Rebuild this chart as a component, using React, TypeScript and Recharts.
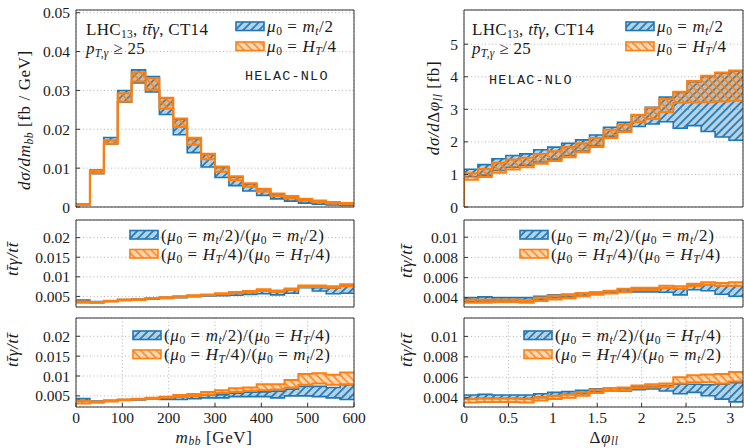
import React from 'react';
import { ComposedChart, Area, XAxis, YAxis, CartesianGrid } from 'recharts';

// ---------- categories (bin edges) ----------
const mbbEdges = [0, 30, 60, 90, 120, 150, 180, 210, 240, 270, 300, 330, 360, 390, 420, 450, 480, 510, 540, 570, 600];
const dphiEdges = [0, 0.1571, 0.3142, 0.4712, 0.6283, 0.7854, 0.9425, 1.0996, 1.2566, 1.4137, 1.5708, 1.7279, 1.885, 2.042, 2.1991, 2.3562, 2.5133, 2.6704, 2.8274, 2.9845, 3.1416];

// ---------- tick labels ----------
const mbbTicks = [0, 100, 200, 300, 400, 500, 600];
const dphiTicks = [0, 0.5, 1, 1.5, 2, 2.5, 3];
const topLeftYTicks = [0, 0.01, 0.02, 0.03, 0.04, 0.05];
const topRightYTicks = [0, 1, 2, 3, 4, 5];
const ratioLeftYTicks = [0.005, 0.01, 0.015, 0.02];
const ratioRightYTicks = [0.004, 0.006, 0.008, 0.01];

// ---------- m_bb differential cross section [fb/GeV] ----------
const mbbMtLo = [0.0006, 0.0086, 0.0162, 0.027, 0.0319, 0.0296, 0.0238, 0.0186, 0.014, 0.0103, 0.0076, 0.0055, 0.0041, 0.003, 0.0021, 0.0015, 0.001, 0.0007, 0.0005, 0.0004];
const mbbMtHi = [0.0008, 0.0095, 0.0179, 0.03, 0.0353, 0.0336, 0.028, 0.0226, 0.0176, 0.0135, 0.0102, 0.0077, 0.0059, 0.0045, 0.0033, 0.0026, 0.0019, 0.0015, 0.0011, 0.0008];
const mbbHtLo = [0.0006, 0.0087, 0.0163, 0.0271, 0.0323, 0.0302, 0.0253, 0.0206, 0.016, 0.0123, 0.0091, 0.0069, 0.0052, 0.0039, 0.0028, 0.0022, 0.0016, 0.0012, 0.0009, 0.0007];
const mbbHtHi = [0.0008, 0.0093, 0.0172, 0.0293, 0.0347, 0.0332, 0.0281, 0.0228, 0.0178, 0.0137, 0.0104, 0.0079, 0.0061, 0.0047, 0.0035, 0.0028, 0.0021, 0.0017, 0.0013, 0.001];

// ---------- delta phi_ll differential cross section [fb] ----------
const dphiMtLo = [0.93, 0.98, 1.12, 1.22, 1.28, 1.38, 1.47, 1.58, 1.72, 1.88, 2.17, 2.33, 2.47, 2.55, 2.62, 2.42, 2.5, 2.32, 2.15, 2.05];
const dphiMtHi = [1.16, 1.3, 1.48, 1.58, 1.63, 1.76, 1.84, 1.96, 2.06, 2.21, 2.45, 2.6, 2.83, 3.06, 3.38, 3.52, 3.85, 4.01, 4.11, 4.17];
const dphiHtLo = [0.84, 0.92, 1.05, 1.15, 1.22, 1.33, 1.41, 1.53, 1.68, 1.84, 2.12, 2.3, 2.6, 2.7, 2.91, 3.2, 3.21, 3.22, 3.24, 3.26];
const dphiHtHi = [1.04, 1.17, 1.36, 1.46, 1.51, 1.63, 1.71, 1.84, 1.96, 2.12, 2.37, 2.53, 2.83, 3.05, 3.32, 3.54, 3.87, 4.03, 4.13, 4.19];

// ---------- ratio ttA/tt, same scale (m_bb) ----------
const rSameMbbMtLo = [0.0036, 0.0034, 0.0037, 0.004, 0.0041, 0.0043, 0.0045, 0.0047, 0.0049, 0.0051, 0.0052, 0.0053, 0.0055, 0.0057, 0.0054, 0.0058, 0.0072, 0.0064, 0.0057, 0.0058];
const rSameMbbMtHi = [0.0041, 0.0037, 0.0039, 0.0042, 0.0043, 0.0046, 0.0048, 0.005, 0.0052, 0.0054, 0.0057, 0.0058, 0.006, 0.0064, 0.0062, 0.0067, 0.0076, 0.0072, 0.0071, 0.0078];
const rSameMbbHtLo = [0.0034, 0.0034, 0.0037, 0.004, 0.0041, 0.0044, 0.0046, 0.0048, 0.0051, 0.0053, 0.0055, 0.0058, 0.006, 0.0064, 0.0062, 0.0067, 0.0074, 0.0074, 0.0072, 0.0076];
const rSameMbbHtHi = [0.0037, 0.0036, 0.0039, 0.0042, 0.0043, 0.0046, 0.0048, 0.005, 0.0053, 0.0055, 0.0058, 0.0061, 0.0064, 0.0068, 0.0065, 0.007, 0.0078, 0.0078, 0.0076, 0.0081];

// ---------- ratio ttA/tt, same scale (delta phi) ----------
const rSameDphiMtLo = [0.00364, 0.0037, 0.0037, 0.0037, 0.0037, 0.00384, 0.00403, 0.0041, 0.00423, 0.00436, 0.0045, 0.0046, 0.0046, 0.0046, 0.00456, 0.0043, 0.0048, 0.0047, 0.00436, 0.00416];
const rSameDphiMtHi = [0.00403, 0.0041, 0.00403, 0.00403, 0.00403, 0.00416, 0.0043, 0.00436, 0.00443, 0.00456, 0.0047, 0.0048, 0.0049, 0.0049, 0.00495, 0.0049, 0.00528, 0.00528, 0.0052, 0.0052];
const rSameDphiHtLo = [0.00351, 0.00351, 0.00357, 0.00357, 0.00351, 0.0037, 0.00384, 0.00397, 0.00416, 0.0043, 0.00443, 0.00456, 0.00475, 0.00475, 0.00495, 0.0049, 0.00515, 0.00528, 0.0052, 0.0052];
const rSameDphiHtHi = [0.00384, 0.00384, 0.00384, 0.00384, 0.00377, 0.00403, 0.00423, 0.0043, 0.00449, 0.00456, 0.0047, 0.0049, 0.005, 0.005, 0.0052, 0.00515, 0.0054, 0.00554, 0.00548, 0.00554];

// ---------- ratio ttA/tt, mixed scales (m_bb) ----------
const rMixMbbMtLo = [0.0036, 0.0035, 0.0037, 0.0039, 0.004, 0.0042, 0.0041, 0.0041, 0.0043, 0.0045, 0.0045, 0.0048, 0.0048, 0.0048, 0.0045, 0.005, 0.005, 0.0048, 0.0045, 0.0041];
const rMixMbbMtHi = [0.0043, 0.0037, 0.0039, 0.0041, 0.0042, 0.0044, 0.0045, 0.0047, 0.005, 0.0052, 0.0053, 0.0057, 0.0059, 0.006, 0.0062, 0.0067, 0.0074, 0.0074, 0.0071, 0.0078];
const rMixMbbHtLo = [0.0031, 0.0033, 0.0036, 0.0039, 0.0041, 0.0043, 0.0045, 0.0047, 0.005, 0.0053, 0.0057, 0.006, 0.0062, 0.0064, 0.0066, 0.0071, 0.0078, 0.0081, 0.0078, 0.0079];
const rMixMbbHtHi = [0.0037, 0.0036, 0.0038, 0.0041, 0.0043, 0.0045, 0.0048, 0.0052, 0.0055, 0.006, 0.0064, 0.0069, 0.0071, 0.0079, 0.0079, 0.009, 0.0105, 0.0107, 0.0103, 0.0109];

// ---------- ratio ttA/tt, mixed scales (delta phi) ----------
const rMixDphiMtLo = [0.00387, 0.00393, 0.00393, 0.00393, 0.00393, 0.004, 0.0042, 0.00433, 0.0044, 0.0046, 0.00467, 0.00467, 0.0048, 0.00487, 0.00467, 0.0044, 0.00453, 0.0042, 0.00387, 0.0036];
const rMixDphiMtHi = [0.00427, 0.00433, 0.00427, 0.00427, 0.00427, 0.0044, 0.00453, 0.0046, 0.00473, 0.00487, 0.00493, 0.00493, 0.00507, 0.00513, 0.0052, 0.00533, 0.00533, 0.00527, 0.00533, 0.00547];
const rMixDphiHtLo = [0.00353, 0.0036, 0.0036, 0.0036, 0.00353, 0.00373, 0.00387, 0.004, 0.0042, 0.00447, 0.00467, 0.00473, 0.00493, 0.005, 0.00507, 0.0054, 0.00553, 0.00553, 0.0054, 0.0056];
const rMixDphiHtHi = [0.00387, 0.00393, 0.00393, 0.00393, 0.00387, 0.00407, 0.0042, 0.00433, 0.00453, 0.0048, 0.00493, 0.005, 0.0052, 0.00533, 0.0054, 0.006, 0.0062, 0.00627, 0.00633, 0.00653];

type Row = { x: number; b: [number, number]; o: [number, number] };

function steps(edges: number[], bLo: number[], bHi: number[], oLo: number[], oHi: number[], lead = false): Row[] {
  const rows: Row[] = [];
  if (lead) rows.push({ x: edges[0], b: [0, 0], o: [0, 0] });
  for (let i = 0; i < bLo.length; i++) rows.push({ x: edges[i], b: [bLo[i], bHi[i]], o: [oLo[i], oHi[i]] });
  const n = bLo.length - 1;
  rows.push({ x: edges[n + 1], b: [bLo[n], bHi[n]], o: [oLo[n], oHi[n]] });
  return rows;
}

const SERIF = "'Liberation Serif', 'Times New Roman', serif";
const MONO = "'Liberation Mono', 'DejaVu Sans Mono', monospace";
const FRAME = '#333';
const BLUE = '#1f77b4';
const ORANGE = '#ff7f0e';
const TICK_FS = 15.5;
const FS = 17;
const LS = 0.6;
const SUB = 11.5;

function Patterns() {
  return (
    <defs>
      <pattern id="hatchB" patternUnits="userSpaceOnUse" width="5.6" height="5.6" patternTransform="rotate(45)">
        <rect width="5.6" height="5.6" fill={BLUE} fillOpacity={0.33} />
        <line x1="2.8" y1="0" x2="2.8" y2="5.6" stroke={BLUE} strokeWidth={1.7} />
      </pattern>
      <pattern id="hatchO" patternUnits="userSpaceOnUse" width="5.6" height="5.6" patternTransform="rotate(-45)">
        <rect width="5.6" height="5.6" fill={ORANGE} fillOpacity={0.3} />
        <line x1="2.8" y1="0" x2="2.8" y2="5.6" stroke={ORANGE} strokeWidth={1.7} strokeOpacity={0.85} />
      </pattern>
    </defs>
  );
}

type PanelProps = {
  px: number; py: number; pw: number; ph: number;
  data: Row[];
  xDomain: [number, number]; xTicks: number[];
  yDomain: [number, number]; yTicks: number[];
  xLabels: boolean;
};

function Panel(p: PanelProps) {
  const ML = 72, MR = 18, MT = 6, MB = p.xLabels ? 30 : 11;
  const W = p.pw + ML + MR;
  const H = p.ph + MT + MB;
  const tickStyle = { fontFamily: SERIF, fontSize: TICK_FS, fill: '#1a1a1a' };
  return (
    <div style={{ position: 'absolute', left: p.px - ML, top: p.py - MT }}>
      <ComposedChart width={W} height={H} data={p.data} margin={{ top: 0, right: 0, bottom: 0, left: 0 }}>
        <Patterns />
        <CartesianGrid xAxisId="b" yAxisId="l" stroke="#b5b5b5" strokeDasharray="1 2.5" />
        <XAxis
          xAxisId="b" dataKey="x" type="number" orientation="bottom" height={MB}
          domain={p.xDomain} ticks={p.xTicks} interval={0} allowDataOverflow
          tickSize={-4} tickMargin={9}
          tick={p.xLabels ? tickStyle : false}
          tickFormatter={(v: number) => String(v)}
          axisLine={{ stroke: FRAME }} tickLine={{ stroke: FRAME }}
        />
        <XAxis
          xAxisId="t" dataKey="x" type="number" orientation="top" height={MT}
          domain={p.xDomain} ticks={p.xTicks} interval={0} allowDataOverflow
          tickSize={-4} tick={false}
          axisLine={{ stroke: FRAME }} tickLine={{ stroke: FRAME }}
        />
        <YAxis
          yAxisId="l" type="number" orientation="left" width={ML}
          domain={p.yDomain} ticks={p.yTicks} interval={0} allowDataOverflow
          tickSize={-4} tickMargin={10} tick={tickStyle}
          tickFormatter={(v: number) => String(v)}
          axisLine={{ stroke: FRAME }} tickLine={{ stroke: FRAME }}
        />
        <YAxis
          yAxisId="r" type="number" orientation="right" width={MR}
          domain={p.yDomain} ticks={p.yTicks} interval={0} allowDataOverflow
          tickSize={-4} tick={false}
          axisLine={{ stroke: FRAME }} tickLine={{ stroke: FRAME }}
        />
        <Area
          xAxisId="b" yAxisId="l" type="stepAfter" dataKey="b"
          fill="url(#hatchB)" fillOpacity={1} stroke={BLUE} strokeWidth={1.6}
          isAnimationActive={false} dot={false} activeDot={false}
        />
        <Area
          xAxisId="b" yAxisId="l" type="stepAfter" dataKey="o"
          fill="url(#hatchO)" fillOpacity={1} stroke={ORANGE} strokeWidth={2}
          isAnimationActive={false} dot={false} activeDot={false}
        />
      </ComposedChart>
    </div>
  );
}

function Mu0() {
  return (
    <>
      <tspan fontStyle="italic">μ</tspan>
      <tspan fontSize={SUB} dy={3}>0</tspan>
      <tspan dy={-3}> = </tspan>
    </>
  );
}
function MtHalf() {
  return (
    <>
      <tspan fontStyle="italic">m</tspan>
      <tspan fontSize={SUB} fontStyle="italic" dy={3}>t</tspan>
      <tspan dy={-3}>/2</tspan>
    </>
  );
}
function HtQuarter() {
  return (
    <>
      <tspan fontStyle="italic">H</tspan>
      <tspan fontSize={SUB} fontStyle="italic" dy={3}>T</tspan>
      <tspan dy={-3}>/4</tspan>
    </>
  );
}

function Patch({ x, y, kind }: { x: number; y: number; kind: 'b' | 'o' }) {
  return (
    <rect x={x} y={y} width={28} height={8.5}
      fill={kind === 'b' ? 'url(#hatchB)' : 'url(#hatchO)'}
      stroke={kind === 'b' ? BLUE : ORANGE} strokeWidth={1.6} />
  );
}

function SimpleLegend({ x, y }: { x: number; y: number }) {
  return (
    <g fontFamily={SERIF} fontSize={FS} letterSpacing={LS} fill="#1a1a1a">
      <Patch x={x} y={y} kind="b" />
      <text x={x + 31} y={y + 10}><Mu0 /><MtHalf /></text>
      <Patch x={x} y={y + 20} kind="o" />
      <text x={x + 31} y={y + 30}><Mu0 /><HtQuarter /></text>
    </g>
  );
}

function RatioLegend({ x, y, mixed }: { x: number; y: number; mixed: boolean }) {
  return (
    <g fontFamily={SERIF} fontSize={FS} letterSpacing={LS} fill="#1a1a1a">
      <Patch x={x} y={y} kind="b" />
      <text x={x + 31} y={y + 10}>
        <tspan>(</tspan><Mu0 /><MtHalf /><tspan>)/(</tspan><Mu0 />{mixed ? <HtQuarter /> : <MtHalf />}<tspan>)</tspan>
      </text>
      <Patch x={x} y={y + 19} kind="o" />
      <text x={x + 31} y={y + 29}>
        <tspan>(</tspan><Mu0 /><HtQuarter /><tspan>)/(</tspan><Mu0 />{mixed ? <MtHalf /> : <HtQuarter />}<tspan>)</tspan>
      </text>
    </g>
  );
}

function ProcessText({ x, y }: { x: number; y: number }) {
  return (
    <g fontFamily={SERIF} fontSize={FS} letterSpacing={0.3} fill="#1a1a1a">
      <text x={x} y={y}>
        <tspan>LHC</tspan><tspan fontSize={SUB} dy={3}>13</tspan><tspan dy={-3}>, </tspan>
        <tspan fontStyle="italic">t{'t\u0304'}γ</tspan><tspan>, CT14</tspan>
      </text>
      <text x={x} y={y + 19}>
        <tspan fontStyle="italic">p</tspan><tspan fontSize={SUB} fontStyle="italic" dy={3}>T,γ</tspan>
        <tspan dy={-3}> ≥ 25</tspan>
      </text>
    </g>
  );
}

function RatioTitle({ x, y }: { x: number; y: number }) {
  return (
    <text transform={`translate(${x},${y}) rotate(-90)`} textAnchor="middle" fontFamily={SERIF} fontSize={FS} letterSpacing={LS} fill="#1a1a1a" fontStyle="italic">
      t{'t\u0304'}γ/t{'t\u0304'}
    </text>
  );
}

function Overlay() {
  return (
    <svg width={744} height={448} style={{ position: 'absolute', left: 0, top: 0, pointerEvents: 'none' }}>
      <Patterns />
      {/* top-left */}
      <ProcessText x={86} y={35} />
      <SimpleLegend x={236} y={22} />
      <text x={245} y={80} fontFamily={MONO} fontSize={13.5} letterSpacing={1.2} fill="#222">HELAC-NLO</text>
      <text transform="translate(30,120) rotate(-90)" textAnchor="middle" fontFamily={SERIF} fontSize={FS} letterSpacing={LS} fill="#1a1a1a">
        <tspan fontStyle="italic">dσ/dm</tspan><tspan fontSize={SUB} fontStyle="italic" dy={3}>bb</tspan>
        <tspan dy={-3}> [fb / GeV]</tspan>
      </text>
      {/* top-right */}
      <ProcessText x={472} y={35} />
      <SimpleLegend x={626} y={22} />
      <text x={489} y={84} fontFamily={MONO} fontSize={13.5} letterSpacing={1.2} fill="#222">HELAC-NLO</text>
      <text transform="translate(438.5,108) rotate(-90)" textAnchor="middle" fontFamily={SERIF} fontSize={FS} letterSpacing={LS} fill="#1a1a1a">
        <tspan fontStyle="italic">dσ/d</tspan><tspan>Δ</tspan><tspan fontStyle="italic">φ</tspan>
        <tspan fontSize={SUB} fontStyle="italic" dy={3}>ll</tspan>
        <tspan dy={-3}> [fb]</tspan>
      </text>
      {/* middle */}
      <RatioLegend x={130} y={230.5} mixed={false} />
      <RatioLegend x={520} y={230.5} mixed={false} />
      <RatioTitle x={18} y={259} />
      <RatioTitle x={411.5} y={261} />
      {/* bottom */}
      <RatioLegend x={133} y={331} mixed={true} />
      <RatioLegend x={524} y={331} mixed={true} />
      <RatioTitle x={18} y={350} />
      <RatioTitle x={411.5} y={350} />
      {/* x titles */}
      <text x={214} y={442.5} textAnchor="middle" fontFamily={SERIF} fontSize={FS} letterSpacing={LS} fill="#1a1a1a">
        <tspan fontStyle="italic">m</tspan><tspan fontSize={SUB} fontStyle="italic" dy={2.5}>bb</tspan>
        <tspan dy={-2.5}> [GeV]</tspan>
      </text>
      <text x={604} y={442.5} textAnchor="middle" fontFamily={SERIF} fontSize={FS} letterSpacing={LS} fill="#1a1a1a">
        <tspan>Δ</tspan><tspan fontStyle="italic">φ</tspan>
        <tspan fontSize={SUB} fontStyle="italic" dy={2.5}>ll</tspan>
      </text>
    </svg>
  );
}

export default function App() {
  const topLeft = steps(mbbEdges, mbbMtLo, mbbMtHi, mbbHtLo, mbbHtHi);
  const topRight = steps(dphiEdges, dphiMtLo, dphiMtHi, dphiHtLo, dphiHtHi, true);
  const midLeft = steps(mbbEdges, rSameMbbMtLo, rSameMbbMtHi, rSameMbbHtLo, rSameMbbHtHi);
  const midRight = steps(dphiEdges, rSameDphiMtLo, rSameDphiMtHi, rSameDphiHtLo, rSameDphiHtHi);
  const botLeft = steps(mbbEdges, rMixMbbMtLo, rMixMbbMtHi, rMixMbbHtLo, rMixMbbHtHi);
  const botRight = steps(dphiEdges, rMixDphiMtLo, rMixDphiMtHi, rMixDphiHtLo, rMixDphiHtHi);
  const PI = Math.PI;
  return (
    <div style={{ position: 'absolute', left: 0, top: 0, width: 744, height: 448, overflow: 'hidden', background: '#fff' }}>
      <Panel px={76} py={10} pw={278} ph={197} data={topLeft} xDomain={[0, 600]} xTicks={mbbTicks} yDomain={[0, 0.0507]} yTicks={topLeftYTicks} xLabels={false} />
      <Panel px={464} py={10} pw={279} ph={197} data={topRight} xDomain={[0, PI]} xTicks={dphiTicks} yDomain={[0, 6.05]} yTicks={topRightYTicks} xLabels={false} />
      <Panel px={76} py={220} pw={278} ph={87} data={midLeft} xDomain={[0, 600]} xTicks={mbbTicks} yDomain={[0.0023, 0.0245]} yTicks={ratioLeftYTicks} xLabels={false} />
      <Panel px={464} py={220} pw={279} ph={87} data={midRight} xDomain={[0, PI]} xTicks={dphiTicks} yDomain={[0.0031, 0.0117]} yTicks={ratioRightYTicks} xLabels={false} />
      <Panel px={76} py={318} pw={278} ph={89} data={botLeft} xDomain={[0, 600]} xTicks={mbbTicks} yDomain={[0.0022, 0.0246]} yTicks={ratioLeftYTicks} xLabels={true} />
      <Panel px={464} py={318} pw={279} ph={89} data={botRight} xDomain={[0, PI]} xTicks={dphiTicks} yDomain={[0.0031, 0.0118]} yTicks={ratioRightYTicks} xLabels={true} />
      <Overlay />
    </div>
  );
}
